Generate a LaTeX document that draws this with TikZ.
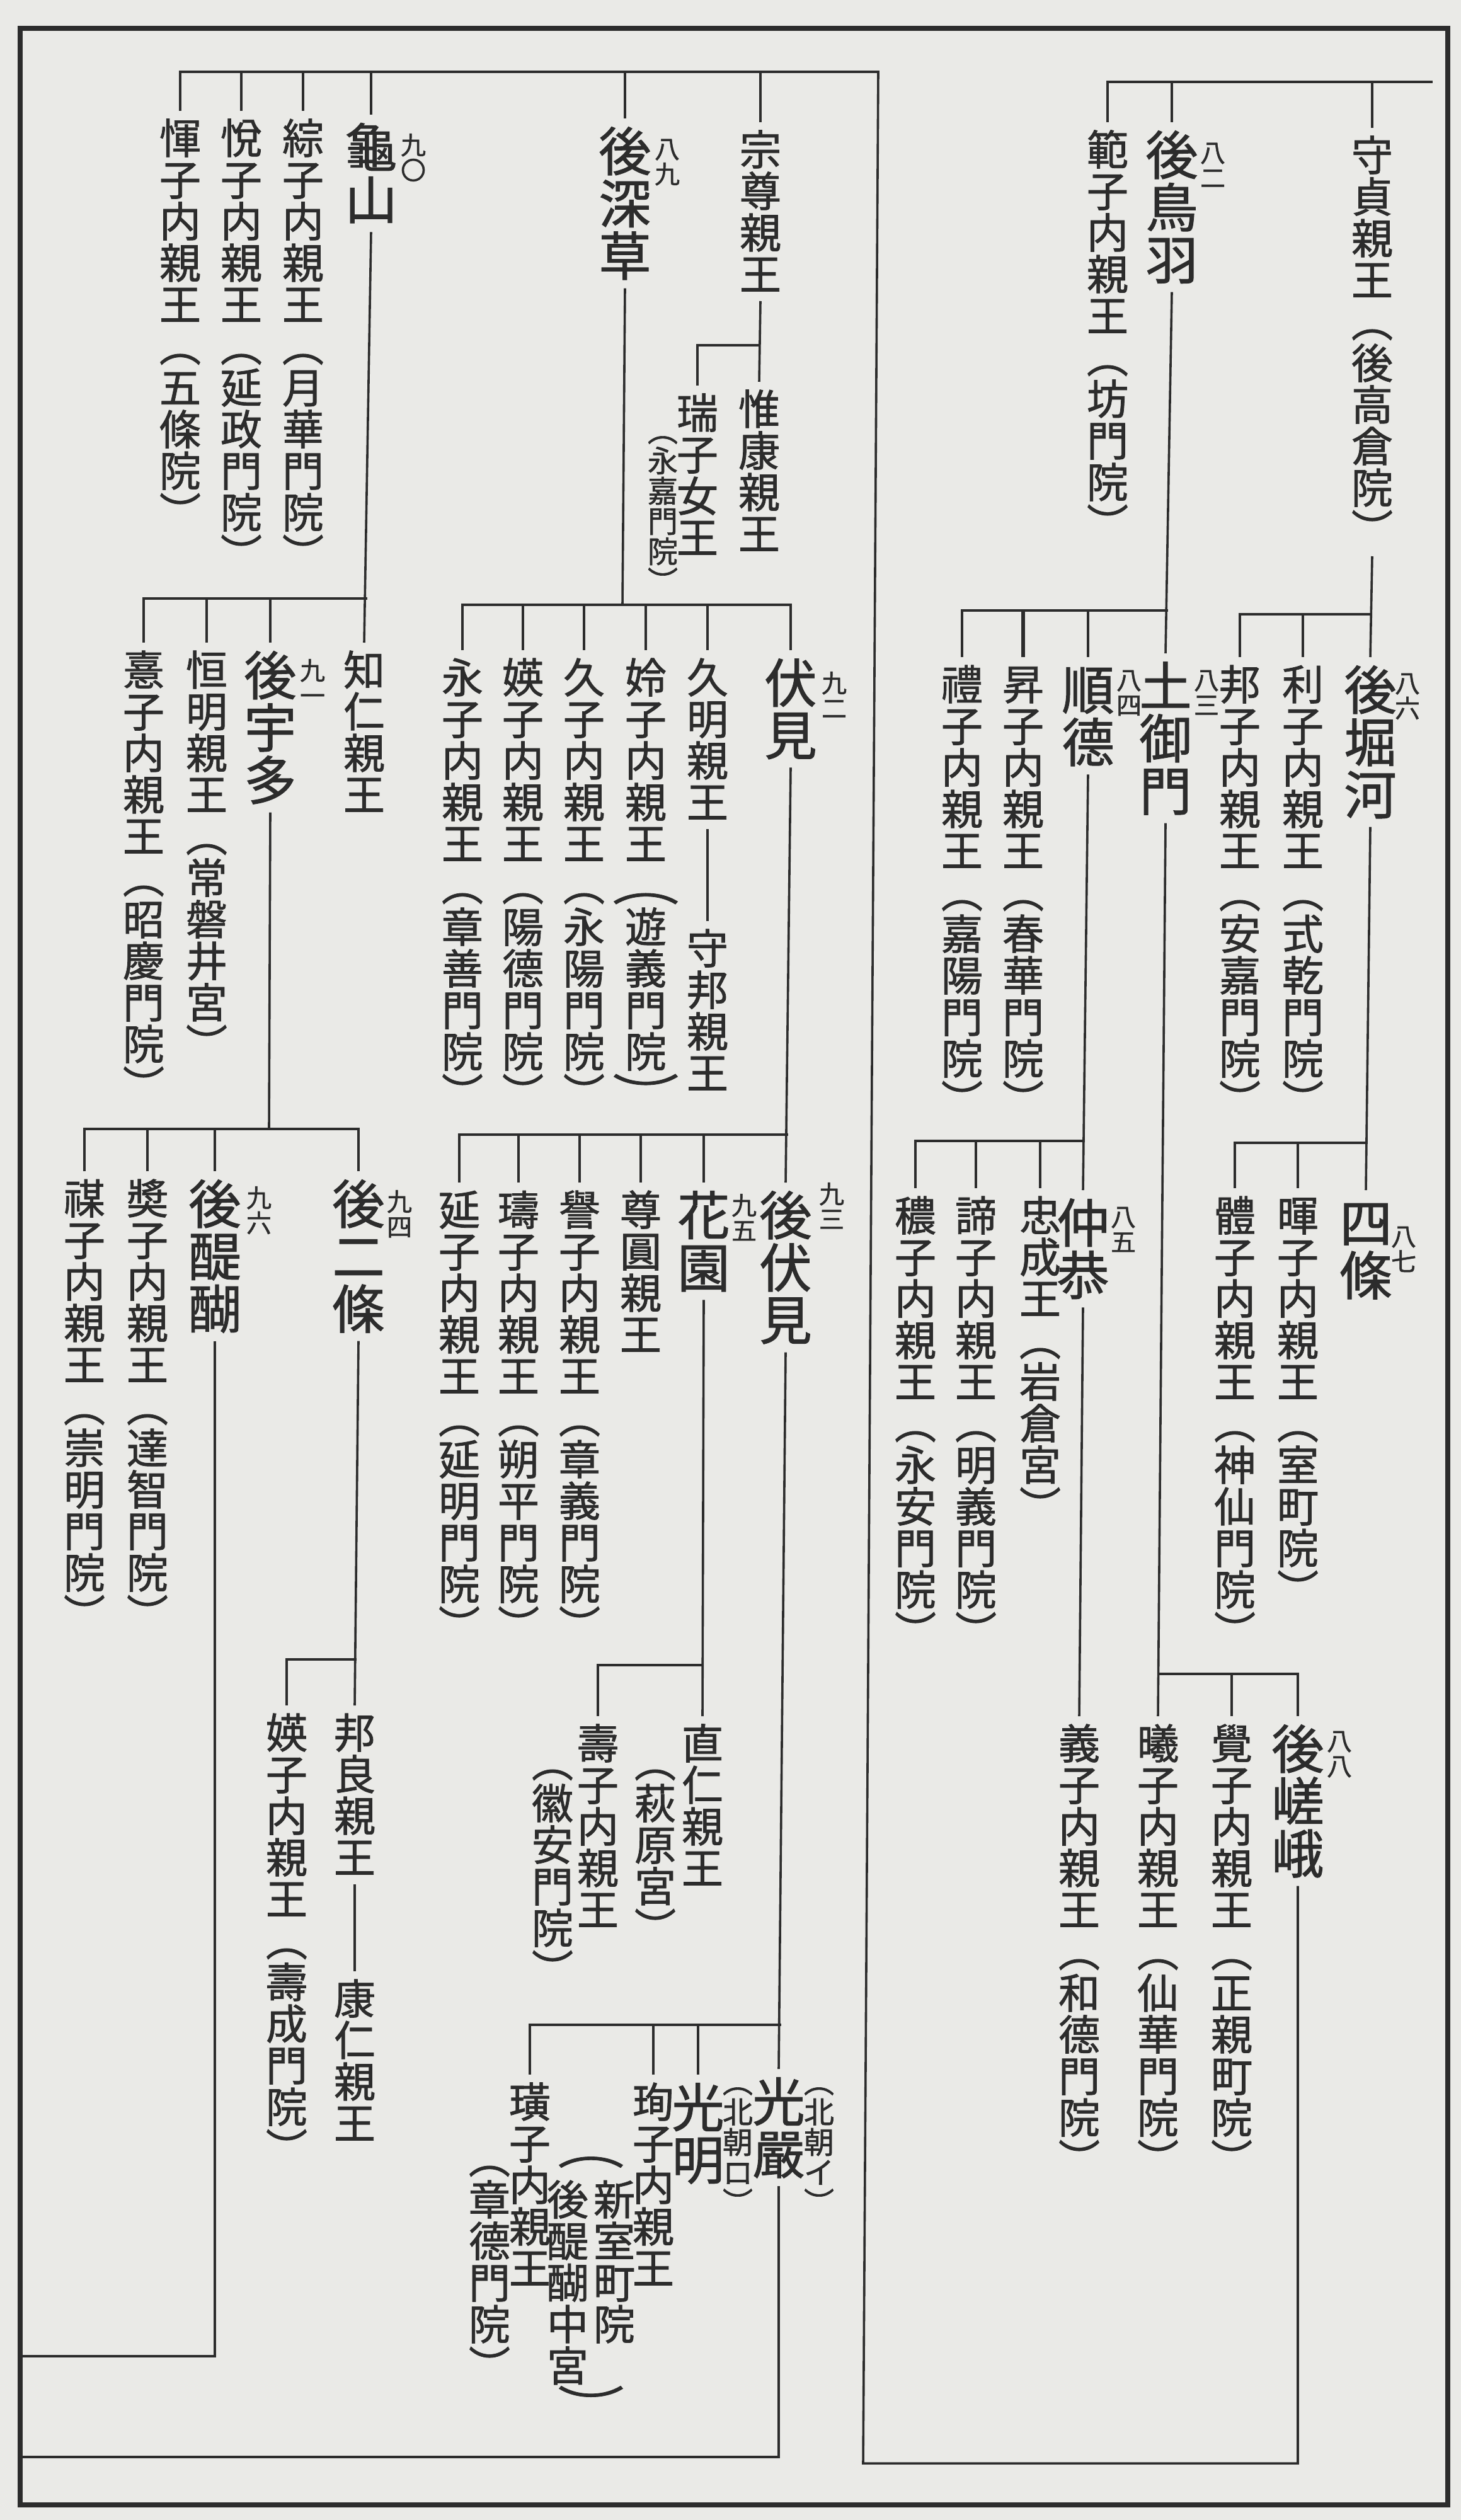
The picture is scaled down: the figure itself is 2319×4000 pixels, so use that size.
\documentclass[tikz,border=0pt]{standalone}
\usepackage{fontspec}
\usepackage{graphicx}
\newfontfamily\jp{Noto Sans CJK JP}[FakeBold=1.2]
\definecolor{paper}{RGB}{234,234,231}
\definecolor{ink}{RGB}{44,44,44}
\newcommand\tate[1]{\vbox{\baselineskip=1em\lineskiplimit=-1000pt\lineskip=0pt\relax\tatei#1\relax}}
\def\tatei#1{\ifx\relax#1\else\hbox to 1em{\hss\vrule height.88em depth.12em width0pt\relax#1\hss}\expandafter\tatei\fi}
\newcommand\hiro[1]{\scalebox{1.6}[1]{#1}}

\begin{document}
\begin{tikzpicture}[x=0.25pt,y=-0.25pt,color=ink,line width=0.9pt,
    miko/.style={font=\jp\fontsize{16.5pt}{16.5pt}\selectfont,inner sep=0pt,outer sep=2.5pt,anchor=north},
    mikado/.style={miko,font=\jp\fontsize{20.8pt}{20.8pt}\selectfont},
    bango/.style={miko,font=\jp\fontsize{10pt}{10pt}\selectfont},
    chu/.style={miko,font=\jp\fontsize{12pt}{12pt}\selectfont}]
    \fill[paper] (0,0) rectangle (2319,4000); \useasboundingbox (0,0) rectangle (2319,4000);
    \draw[line width=2.2pt] (32,45) rectangle (2298,3976);
    \coordinate (rtop) at (2274,130); \coordinate (ltop) at (1394,114);
    \coordinate (rbot) at (2056,3910); \coordinate (lbot) at (1370,3910);

    \node[miko] (morisada) at (2178,203){\tate{守貞親王︵後高倉院︶}};
    \node[mikado] (gotoba) at (1860,194){\tate{後鳥羽}}; \node[bango] (n82) at (1925,212){\tate{八二}};
    \node[miko] (hanshi) at (1758,194){\tate{範子内親王︵坊門院︶}};
    \draw (rtop) -- (hanshi.north |- rtop) -- (hanshi.north);
    \draw (morisada.north) -- (morisada.north |- rtop); \draw (gotoba.north) -- (gotoba.north |- rtop);

    \node[mikado] (gohorikawa) at (2175,1043){\tate{後堀河}}; \node[bango] (n86) at (2234,1054){\tate{八六}};
    \node[miko] (rishi) at (2068,1043){\tate{利子内親王︵式乾門院︶}};
    \node[miko] (hoshi) at (1968,1043){\tate{邦子内親王︵安嘉門院︶}};
    \coordinate (b1) at (2177,975);
    \draw (morisada.south) -- (gohorikawa.north); \draw (b1) -- (hoshi.north |- b1) -- (hoshi.north); \draw (rishi.north) -- (rishi.north |- b1);

    \node[mikado] (shijo) at (2168,1889){\tate{四條}}; \node[bango] (n87) at (2228,1932){\tate{八七}};
    \node[miko] (kishi) at (2060,1886){\tate{暉子内親王︵室町院︶}};
    \node[miko] (taishi) at (1960,1886){\tate{體子内親王︵神仙門院︶}};
    \coordinate (b2) at (2171,1814);
    \draw (gohorikawa.south) -- (shijo.north); \draw (b2) -- (taishi.north |- b2) -- (taishi.north); \draw (kishi.north) -- (kishi.north |- b2);

    \node[mikado] (tsuchimikado) at (1850,1037){\tate{土御門}}; \node[bango] (n83) at (1915,1049){\tate{八三}};
    \node[mikado] (juntoku) at (1727,1043){\tate{順德}}; \node[bango] (n84) at (1792,1049){\tate{八四}};
    \node[miko] (shoshi) at (1624,1043){\tate{昇子内親王︵春華門院︶}};
    \node[miko] (reishi) at (1527,1043){\tate{禮子内親王︵嘉陽門院︶}};
    \coordinate (b3) at (1854,969);
    \draw (gotoba.south) -- (tsuchimikado.north); \draw (b3) -- (reishi.north |- b3) -- (reishi.north);
    \draw (juntoku.north) -- (juntoku.north |- b3); \draw[line width=1.6pt] (shoshi.north) -- (shoshi.north |- b3);

    \node[mikado] (chukyo) at (1719,1889){\tate{仲恭}}; \node[bango] (n85) at (1783,1901){\tate{八五}};
    \node[miko] (tadanari) at (1651,1886){\tate{忠成王︵岩倉宮︶}};
    \node[miko] (teishi) at (1549,1886){\tate{諦子内親王︵明義門院︶}};
    \node[miko] (joshi) at (1453,1886){\tate{穠子内親王︵永安門院︶}};
    \coordinate (b4) at (1722,1811);
    \draw (juntoku.south) -- (chukyo.north); \draw (b4) -- (joshi.north |- b4) -- (joshi.north);
    \draw (tadanari.north) -- (tadanari.north |- b4); \draw (teishi.north) -- (teishi.north |- b4);
    \node[miko] (gishi) at (1713,2724){\tate{義子内親王︵和德門院︶}};
    \draw (chukyo.south) -- (gishi.north);

    \node[mikado] (gosaga) at (2060,2724){\tate{後嵯峨}}; \node[bango] (n88) at (2126,2733){\tate{八八}};
    \node[miko] (kakushi) at (1955,2724){\tate{覺子内親王︵正親町院︶}};
    \node[miko] (gishi2) at (1838,2724){\tate{曦子内親王︵仙華門院︶}};
    \coordinate (b5) at (1839,2657);
    \draw (tsuchimikado.south) -- (gishi2.north); \draw (b5) -- (gosaga.north |- b5) -- (gosaga.north); \draw (kakushi.north) -- (kakushi.north |- b5);

    \node[miko] (munetaka) at (1207,194){\tate{宗尊親王}};
    \node[miko] (koreyasu) at (1205,606){\tate{惟康親王}};
    \node[miko] (zuishi) at (1107,612){\tate{瑞子女王}}; \node[chu] (eika) at (1052,649){\tate{︵永嘉門院︶}};
    \coordinate (b6) at (1206,548);
    \draw (munetaka.south) -- (koreyasu.north); \draw (b6) -- (zuishi.north |- b6) -- (zuishi.north);

    \node[mikado] (gofukakusa) at (992,188){\tate{後深草}}; \node[bango] (n89) at (1059,206){\tate{八九}};
    \node[mikado] (fushimi) at (1255,1032){\tate{伏見}}; \node[bango] (n92) at (1324,1054){\tate{九二}};
    \node[miko] (hisaaki) at (1123,1032){\tate{久明親王}}; \node[miko] (morikuni) at (1123,1462){\tate{守邦親王}};
    \node[miko] (reishi2) at (1025,1032){\tate{姈子内親王{\hiro{︵}}遊義門院{\hiro{︶}}}};
    \node[miko] (kyushi) at (927,1032){\tate{久子内親王︵永陽門院︶}};
    \node[miko] (eishi) at (830,1032){\tate{媖子内親王︵陽德門院︶}};
    \node[miko] (eishi2) at (734,1032){\tate{永子内親王︵章善門院︶}};
    \coordinate (b7) at (988,960);
    \draw (gofukakusa.south) -- (b7); \draw (eishi2.north) -- (eishi2.north |- b7) -- (fushimi.north |- b7) -- (fushimi.north);
    \draw (hisaaki.north) -- (hisaaki.north |- b7); \draw (reishi2.north) -- (reishi2.north |- b7);
    \draw (kyushi.north) -- (kyushi.north |- b7); \draw (eishi.north) -- (eishi.north |- b7);
    \draw (hisaaki.south) -- (morikuni.north);

    \node[mikado] (gofushimi) at (1247,1877){\tate{後伏見}}; \node[bango] (n93) at (1320,1865){\tate{九三}};
    \node[mikado] (hanazono) at (1117,1877){\tate{花園}}; \node[bango] (n95) at (1181,1883){\tate{九五}};
    \node[miko] (sonen) at (1017,1877){\tate{尊圓親王}};
    \node[miko] (yoshi) at (920,1877){\tate{譽子内親王︵章義門院︶}};
    \node[miko] (jushi) at (823,1877){\tate{璹子内親王︵朔平門院︶}};
    \node[miko] (enshi) at (729,1877){\tate{延子内親王︵延明門院︶}};
    \coordinate (b8) at (1251,1801);
    \draw (fushimi.south) -- (gofushimi.north); \draw (b8) -- (enshi.north |- b8) -- (enshi.north);
    \draw (hanazono.north) -- (hanazono.north |- b8); \draw (sonen.north) -- (sonen.north |- b8);
    \draw (yoshi.north) -- (yoshi.north |- b8); \draw (jushi.north) -- (jushi.north |- b8);

    \node[miko] (naohito) at (1115,2724){\tate{直仁親王}}; \node[miko] (hagiwara) at (1040,2753){\tate{︵萩原宮︶}};
    \node[miko] (jushi2) at (949,2724){\tate{壽子内親王}}; \node[miko] (kian) at (877,2753){\tate{︵徽安門院︶}};
    \coordinate (b9) at (1116,2643);
    \draw (hanazono.south) -- (naohito.north); \draw (b9) -- (jushi2.north |- b9) -- (jushi2.north);

    \node[mikado] (kogon) at (1236,3284){\tate{光嚴}}; \node[chu] (hoku1) at (1300,3270){\tate{︵北朝イ︶}};
    \node[mikado] (komyo) at (1108,3293){\tate{光明}}; \node[chu] (hoku2) at (1171,3270){\tate{︵北朝ロ︶}};
    \node[miko] (junshi) at (1037,3293){\tate{珣子内親王}};
    \node[miko] (shinmuro) at (975,3448){\tate{新室町院}}; \node[miko] (chugu) at (901,3448){\tate{後醍醐中宮}};
    \node[miko,anchor=center] (kakko1) at (938,3432){\hiro{︵}}; \node[miko,anchor=center] (kakko2) at (938,3815){\hiro{︶}};
    \node[miko] (koshi) at (841,3293){\tate{璜子内親王}}; \node[miko] (shotoku) at (777,3382){\tate{︵章德門院︶}};
    \coordinate (b10) at (1240,3214); \coordinate (kend) at (32,3900);
    \draw (gofushimi.south) -- (kogon.north); \draw (b10) -- (koshi.north |- b10) -- (koshi.north);
    \draw (komyo.north) -- (komyo.north |- b10); \draw (junshi.north) -- (junshi.north |- b10);
    \draw (kogon.south) -- (kogon.south |- kend) -- (kend);

    \node[mikado] (kameyama) at (589,182){\tate{龜山}}; \node[bango] (n90) at (656,200){\tate{九〇}};
    \node[miko] (soshi) at (481,176){\tate{綜子内親王︵月華門院︶}};
    \node[miko] (esshi) at (383,176){\tate{悅子内親王︵延政門院︶}};
    \node[miko] (unshi) at (286,176){\tate{惲子内親王︵五條院︶}};

    \node[miko] (tomohito) at (578,1020){\tate{知仁親王}};
    \node[mikado] (gouda) at (429,1020){\tate{後宇多}}; \node[bango] (n91) at (496,1034){\tate{九一}};
    \node[miko] (tsuneaki) at (328,1020){\tate{恒明親王︵常磐井宮︶}};
    \node[miko] (kishi3) at (228,1020){\tate{憙子内親王︵昭慶門院︶}};
    \coordinate (b11) at (583,950);
    \draw (kameyama.south) -- (tomohito.north); \draw (b11) -- (kishi3.north |- b11) -- (kishi3.north);
    \draw (gouda.north) -- (gouda.north |- b11); \draw (tsuneaki.north) -- (tsuneaki.north |- b11);

    \node[mikado] (gonijo) at (569,1859){\tate{後二條}}; \node[bango] (n94) at (634,1877){\tate{九四}};
    \node[mikado] (godaigo) at (341,1859){\tate{後醍醐}}; \node[bango] (n96) at (411,1871){\tate{九六}};
    \node[miko] (shoshi2) at (234,1859){\tate{奬子内親王︵達智門院︶}};
    \node[miko] (baishi) at (134,1859){\tate{禖子内親王︵崇明門院︶}};
    \coordinate (b12) at (427,1792);
    \draw (gouda.south) -- (b12); \draw (baishi.north) -- (baishi.north |- b12) -- (gonijo.north |- b12) -- (gonijo.north);
    \draw (godaigo.north) -- (godaigo.north |- b12); \draw (shoshi2.north) -- (shoshi2.north |- b12);

    \node[miko] (kuninaga) at (563,2707){\tate{邦良親王}}; \node[miko] (yasuhito) at (563,3129){\tate{康仁親王}};
    \node[miko] (eishi3) at (455,2707){\tate{媖子内親王︵壽成門院︶}};
    \coordinate (b13) at (566,2634); \coordinate (gend) at (32,3740);
    \draw (gonijo.south) -- (kuninaga.north); \draw (kuninaga.south) -- (yasuhito.north);
    \draw (b13) -- (eishi3.north |- b13) -- (eishi3.north);
    \draw (godaigo.south) -- (godaigo.south |- gend) -- (gend);

    \draw (gosaga.south) -- (gosaga.south |- rbot) -- (lbot) -- (ltop) -- (unshi.north |- ltop) -- (unshi.north);
    \draw (esshi.north) -- (esshi.north |- ltop); \draw (soshi.north) -- (soshi.north |- ltop);
    \draw (kameyama.north) -- (kameyama.north |- ltop); \draw (gofukakusa.north) -- (gofukakusa.north |- ltop);
    \draw (munetaka.north) -- (munetaka.north |- ltop);
\end{tikzpicture}
\end{document}
